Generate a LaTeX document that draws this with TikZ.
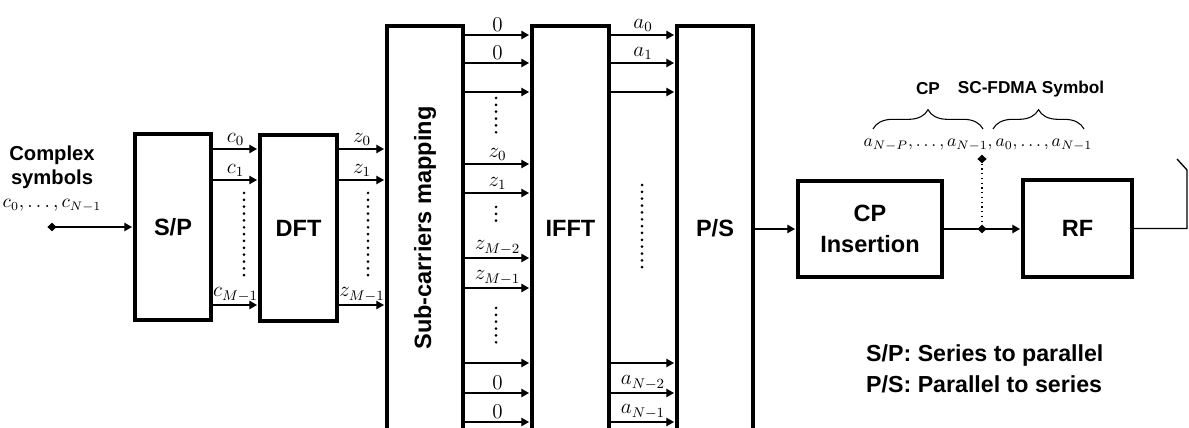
\documentclass[tikz,border=0pt]{standalone}
\usepackage{fontspec}
\setsansfont{Liberation Sans}
\usetikzlibrary{arrows.meta,shapes.geometric,decorations.pathreplacing}

\begin{document}
\begin{tikzpicture}[
  x=0.02cm,
  y=-0.02cm,
  block/.style={
    draw,
    line width=1.8pt,
    inner sep=0pt,
    align=center,
    font=\sffamily\bfseries\fontsize{13.4}{18}\selectfont
  },
  flow/.style={-{Triangle[length=4.4pt,width=4.8pt]}, line width=.75pt, shorten >=.8pt},
  wire/.style={line width=.75pt},
  sub/.style={above, inner sep=1.6pt, font=\fontsize{12}{13}\selectfont},
  seqtext/.style={font=\fontsize{10.5}{12}\selectfont},
  vdots/.style={line width=1.7pt, line cap=round, dash pattern=on 0pt off 3.9pt},
  tap/.style={diamond, fill, inner sep=0pt, minimum width=5.4pt, minimum height=5pt},
  brace/.style={decorate, decoration={brace, amplitude=11pt}, line width=.6pt},
  tag/.style={font=\sffamily\bfseries\fontsize{9.8}{11}\selectfont},
  note/.style={font=\sffamily\bfseries\fontsize{13.2}{17.6}\selectfont, align=left}
]

\useasboundingbox (0,0) rectangle (1189,428);

% chain of blocks
\node[block, minimum width=1.52cm, minimum height=3.72cm] (sp) at (173,227) {S/P};
\node[block, minimum width=1.54cm, minimum height=3.72cm] (dft) at (298.5,228) {DFT};
\node[block, minimum width=1.52cm, minimum height=8.08cm] (sub) at (425,228)
  {\rotatebox{90}{Sub-carriers mapping}};
\node[block, minimum width=1.54cm, minimum height=8.08cm] (ifft) at (570.5,228) {IFFT};
\node[block, minimum width=1.52cm, minimum height=8.08cm] (ps) at (715,228) {P/S};
\node[block, minimum width=2.88cm, minimum height=1.92cm] (cpins) at (870,229) {CP\\Insertion};
\node[block, minimum width=2.18cm, minimum height=1.94cm] (rf) at (1077.5,228.5) {RF};

% input
\node[font=\sffamily\bfseries\fontsize{11.5}{13.7}\selectfont, align=center] (insym) at (52,167)
  {Complex\\symbols};
\node[seqtext] (inseq) at (52,206) {$c_0, \dots, c_{N-1}$};
\node[tap] (src) at (52,227) {};
\draw[flow] (src.center) -- (sp.west);

% parallel branches
\foreach \y/\t in {149/c_0, 180/c_1, 305/{c_{M-1}}}
  \draw[flow] (sp.east |- 0,\y) -- node[sub] {$\t$} (dft.west |- 0,\y);
\foreach \y/\t in {149/z_0, 180/z_1, 305/{z_{M-1}}}
  \draw[flow] (dft.east |- 0,\y) -- node[sub] {$\t$} (sub.west |- 0,\y);
\foreach \y/\t in {35/0, 63/0, 92/, 164/z_0, 193/z_1, 258/{z_{M-2}}, 288/{z_{M-1}}, 363/, 393/0, 422/0}
  \draw[flow] (sub.east |- 0,\y) -- node[sub] {$\t$} (ifft.west |- 0,\y);
\foreach \y/\t in {35/a_0, 63/a_1, 92/, 363/, 393/{a_{N-2}}, 422/{a_{N-1}}}
  \draw[flow] (ifft.east |- 0,\y) -- node[sub] {$\t$} (ps.west |- 0,\y);

\draw[vdots] (244,193) -- (244,282);
\draw[vdots] (368,193) -- (368,280);
\draw[vdots] (496,98) -- (496,133);
\draw[vdots] (496,207) -- (496,222);
\draw[vdots] (496,308) -- (496,343);
\draw[vdots] (642,185) -- (642,272);

% serial output
\draw[flow] (ps.east |- cpins) -- (cpins.west);
\coordinate (split) at (982,229);
\draw[wire] (cpins.east) -- (split);
\draw[flow] (split) -- (rf.west |- split);
\node[tap] (splitmark) at (split) {};
\node[tap] (probe) at (982,159) {};
\draw[dotted, line width=.7pt] (probe) -- (splitmark);

\coordinate (ant) at (1187,170);
\draw[wire] (rf.east) -| (ant) -- ++(-10,-11);

% cyclic prefix annotation
\node[anchor=base, font=\fontsize{9.6}{11}\selectfont] (seq) at (978,147)
  {$a_{N-P}, \dots, a_{N-1}, a_0, \dots, a_{N-1}$};
\coordinate (cpL) at (873,129);
\coordinate (cpR) at (983,129);
\coordinate (symL) at (993,129);
\coordinate (symR) at (1084,129);
\draw[brace] (cpL) -- (cpR);
\draw[brace] (symL) -- (symR);
\node[tag] (cplbl) at (928,89) {CP};
\node[tag] (symlbl) at (1031,89) {SC-FDMA Symbol};

\node[note, anchor=west] (legend) at (860,369)
  {S/P: Series to parallel\\P/S: Parallel to series};
\end{tikzpicture}
\end{document}
